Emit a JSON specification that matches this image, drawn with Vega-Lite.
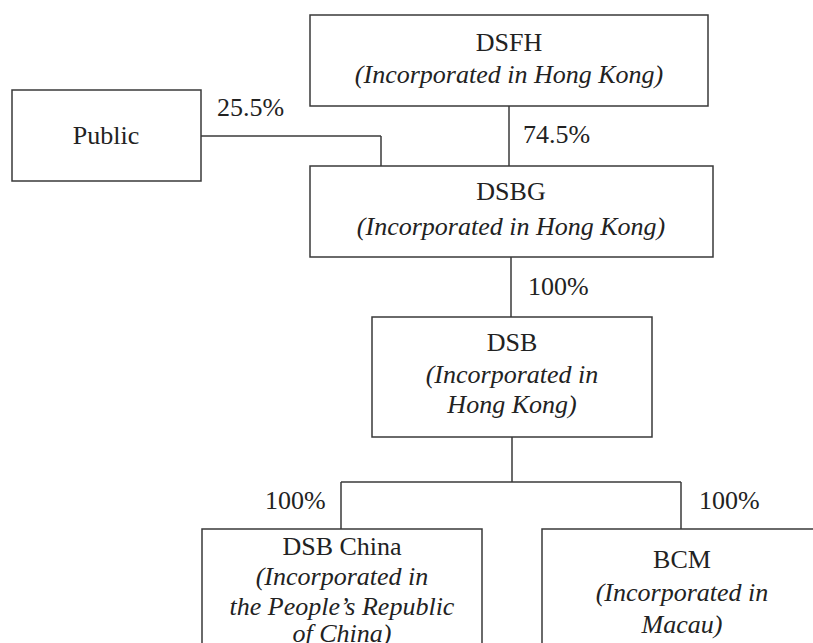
{
  "$schema": "https://vega.github.io/schema/vega-lite/v6.json",
  "width": 813,
  "height": 643,
  "padding": 0,
  "autosize": {"type": "none"},
  "background": "white",
  "config": {"view": {"stroke": null}},
  "datasets": {
    "boxes": [
      {"name": "DSFH", "x1": 310, "x2": 708, "y1": 15, "y2": 106},
      {"name": "Public", "x1": 12, "x2": 201, "y1": 90, "y2": 181},
      {"name": "DSBG", "x1": 310, "x2": 713, "y1": 166, "y2": 257},
      {"name": "DSB", "x1": 372, "x2": 652, "y1": 317, "y2": 437},
      {"name": "DSB China", "x1": 202, "x2": 482, "y1": 529, "y2": 700},
      {"name": "BCM", "x1": 542, "x2": 822, "y1": 529, "y2": 700}
    ],
    "links": [
      {"x1": 201, "x2": 381, "y1": 136, "y2": 136},
      {"x1": 381, "x2": 381, "y1": 136, "y2": 166},
      {"x1": 509, "x2": 509, "y1": 106, "y2": 166},
      {"x1": 511, "x2": 511, "y1": 257, "y2": 317},
      {"x1": 512, "x2": 512, "y1": 437, "y2": 482},
      {"x1": 341, "x2": 681, "y1": 482, "y2": 482},
      {"x1": 341, "x2": 341, "y1": 482, "y2": 529},
      {"x1": 681, "x2": 681, "y1": 482, "y2": 529}
    ],
    "labels": [
      {"kind": "name", "label": "DSFH", "x": 509, "y": 43},
      {"kind": "name", "label": "Public", "x": 106, "y": 136},
      {"kind": "name", "label": "DSBG", "x": 511, "y": 192},
      {"kind": "name", "label": "DSB", "x": 512, "y": 343},
      {"kind": "name", "label": "DSB China", "x": 342, "y": 547},
      {"kind": "name", "label": "BCM", "x": 682, "y": 560},
      {"kind": "note", "label": "(Incorporated in Hong Kong)", "x": 509, "y": 75},
      {"kind": "note", "label": "(Incorporated in Hong Kong)", "x": 511, "y": 227},
      {"kind": "note", "label": "(Incorporated in", "x": 512, "y": 375},
      {"kind": "note", "label": "Hong Kong)", "x": 512, "y": 405},
      {"kind": "note", "label": "(Incorporated in", "x": 342, "y": 577},
      {"kind": "note", "label": "the People’s Republic", "x": 342, "y": 607},
      {"kind": "note", "label": "of China)", "x": 342, "y": 634},
      {"kind": "note", "label": "(Incorporated in", "x": 682, "y": 593},
      {"kind": "note", "label": "Macau)", "x": 682, "y": 625},
      {"kind": "pct", "label": "25.5%", "x": 217, "y": 108},
      {"kind": "pct", "label": "74.5%", "x": 523, "y": 135},
      {"kind": "pct", "label": "100%", "x": 528, "y": 287},
      {"kind": "pct", "label": "100%", "x": 265, "y": 501},
      {"kind": "pct", "label": "100%", "x": 699, "y": 501}
    ]
  },
  "layer": [
    {
      "data": {"name": "links"},
      "mark": {"type": "rule", "stroke": "#3a3a3a", "strokeWidth": 1.5},
      "encoding": {
        "x": {"field": "x1", "type": "quantitative", "scale": {"domain": [0, 813], "nice": false, "zero": false}, "axis": null},
        "x2": {"field": "x2"},
        "y": {"field": "y1", "type": "quantitative", "scale": {"domain": [0, 643], "nice": false, "zero": false, "reverse": true}, "axis": null},
        "y2": {"field": "y2"}
      }
    },
    {
      "data": {"name": "boxes"},
      "mark": {"type": "rect", "fill": "white", "stroke": "#3a3a3a", "strokeWidth": 1.5, "clip": true},
      "encoding": {
        "x": {"field": "x1", "type": "quantitative", "scale": {"domain": [0, 813], "nice": false, "zero": false}, "axis": null},
        "x2": {"field": "x2"},
        "y": {"field": "y1", "type": "quantitative", "scale": {"domain": [0, 643], "nice": false, "zero": false, "reverse": true}, "axis": null},
        "y2": {"field": "y2"}
      }
    },
    {
      "data": {"name": "labels"},
      "transform": [{"filter": "datum.kind === 'name'"}],
      "mark": {"type": "text", "font": "Liberation Serif", "fontSize": 26, "color": "#222222", "align": "center", "baseline": "middle"},
      "encoding": {
        "x": {"field": "x", "type": "quantitative", "scale": {"domain": [0, 813], "nice": false, "zero": false}, "axis": null},
        "y": {"field": "y", "type": "quantitative", "scale": {"domain": [0, 643], "nice": false, "zero": false, "reverse": true}, "axis": null},
        "text": {"field": "label"}
      }
    },
    {
      "data": {"name": "labels"},
      "transform": [{"filter": "datum.kind === 'note'"}],
      "mark": {"type": "text", "font": "Liberation Serif", "fontStyle": "italic", "fontSize": 26, "color": "#222222", "align": "center", "baseline": "middle"},
      "encoding": {
        "x": {"field": "x", "type": "quantitative", "scale": {"domain": [0, 813], "nice": false, "zero": false}, "axis": null},
        "y": {"field": "y", "type": "quantitative", "scale": {"domain": [0, 643], "nice": false, "zero": false, "reverse": true}, "axis": null},
        "text": {"field": "label"}
      }
    },
    {
      "data": {"name": "labels"},
      "transform": [{"filter": "datum.kind === 'pct'"}],
      "mark": {"type": "text", "font": "Liberation Serif", "fontSize": 26, "color": "#222222", "align": "left", "baseline": "middle"},
      "encoding": {
        "x": {"field": "x", "type": "quantitative", "scale": {"domain": [0, 813], "nice": false, "zero": false}, "axis": null},
        "y": {"field": "y", "type": "quantitative", "scale": {"domain": [0, 643], "nice": false, "zero": false, "reverse": true}, "axis": null},
        "text": {"field": "label"}
      }
    }
  ]
}
